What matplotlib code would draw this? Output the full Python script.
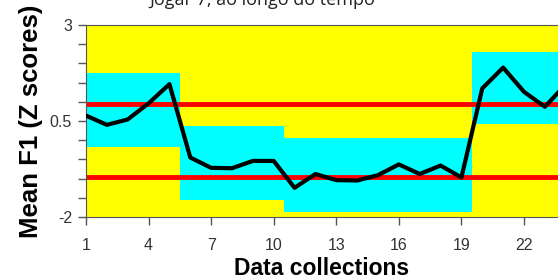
import matplotlib
matplotlib.use('Agg')
import matplotlib.pyplot as plt

# data
collections = list(range(1, 25))
mean_f1 = [0.64, 0.40, 0.54, 0.96, 1.46, -0.45, -0.72, -0.73, -0.54, -0.54,
           -1.24, -0.88, -1.04, -1.05, -0.91, -0.63, -0.88, -0.66, -0.97,
           1.35, 1.89, 1.26, 0.87, 1.45]

# phases: start, end, band low, band high
phase_start = [1, 5.5, 10.5, 19.5]
phase_end = [5.5, 10.5, 19.5, 24.5]
band_low = [-0.18, -1.56, -1.87, 0.42]
band_high = [1.75, 0.37, 0.06, 2.30]

limit_lines = [0.95, -0.97]
xticks = [1, 4, 7, 10, 13, 16, 19, 22]

fig = plt.figure(figsize=(5.58, 2.80), dpi=100)
ax = fig.add_axes([86/558, 1-217/280, 1-86/558, 192/280])
ax.set_facecolor('#ffff00')

for s, e, lo, hi in zip(phase_start, phase_end, band_low, band_high):
	ax.fill_between([s, e], lo, hi, color='#00ffff', lw=0, zorder=1)

for v in limit_lines:
	ax.axhline(v, color='#ff0000', lw=3.5, zorder=2)

ax.plot(collections, mean_f1, color='black', lw=3, zorder=3)

ax.set_xlim(1, 23.63)
ax.set_ylim(-2, 3)
ax.set_xticks(xticks)
ax.set_yticks([3, 0.5, -2])
ax.set_yticklabels(['3', '0.5', '-2'])
ax.set_yticks([2.5, 2, 1.5, 1, 0, -0.5, -1, -1.5], minor=True)
ax.tick_params(axis='both', which='both', direction='out', color='#555555',
	labelcolor='#333333', labelsize=11.5, length=6, width=1)
ax.tick_params(axis='x', pad=9)
ax.tick_params(axis='y', pad=4)
for sp in ax.spines.values():
	sp.set_color('#555555')
ax.spines['right'].set_visible(False)

for lab in ax.get_xticklabels() + ax.get_yticklabels():
	lab.set_family('Liberation Sans')

ax.set_xlabel('Data collections', fontsize=16.5, fontweight='bold',
	family='Liberation Sans', labelpad=3)
ax.set_ylabel('Mean F1 (Z scores)', fontsize=18.5, fontweight='bold',
	family='Liberation Sans', labelpad=5)

fig.text(0.47, 1 - 5/280, 'Jogar 7, ao longo do tempo', ha='center',
	va='baseline', fontsize=13, family='Open Sans', color='#222222')

fig.savefig('out.png', dpi=100)
